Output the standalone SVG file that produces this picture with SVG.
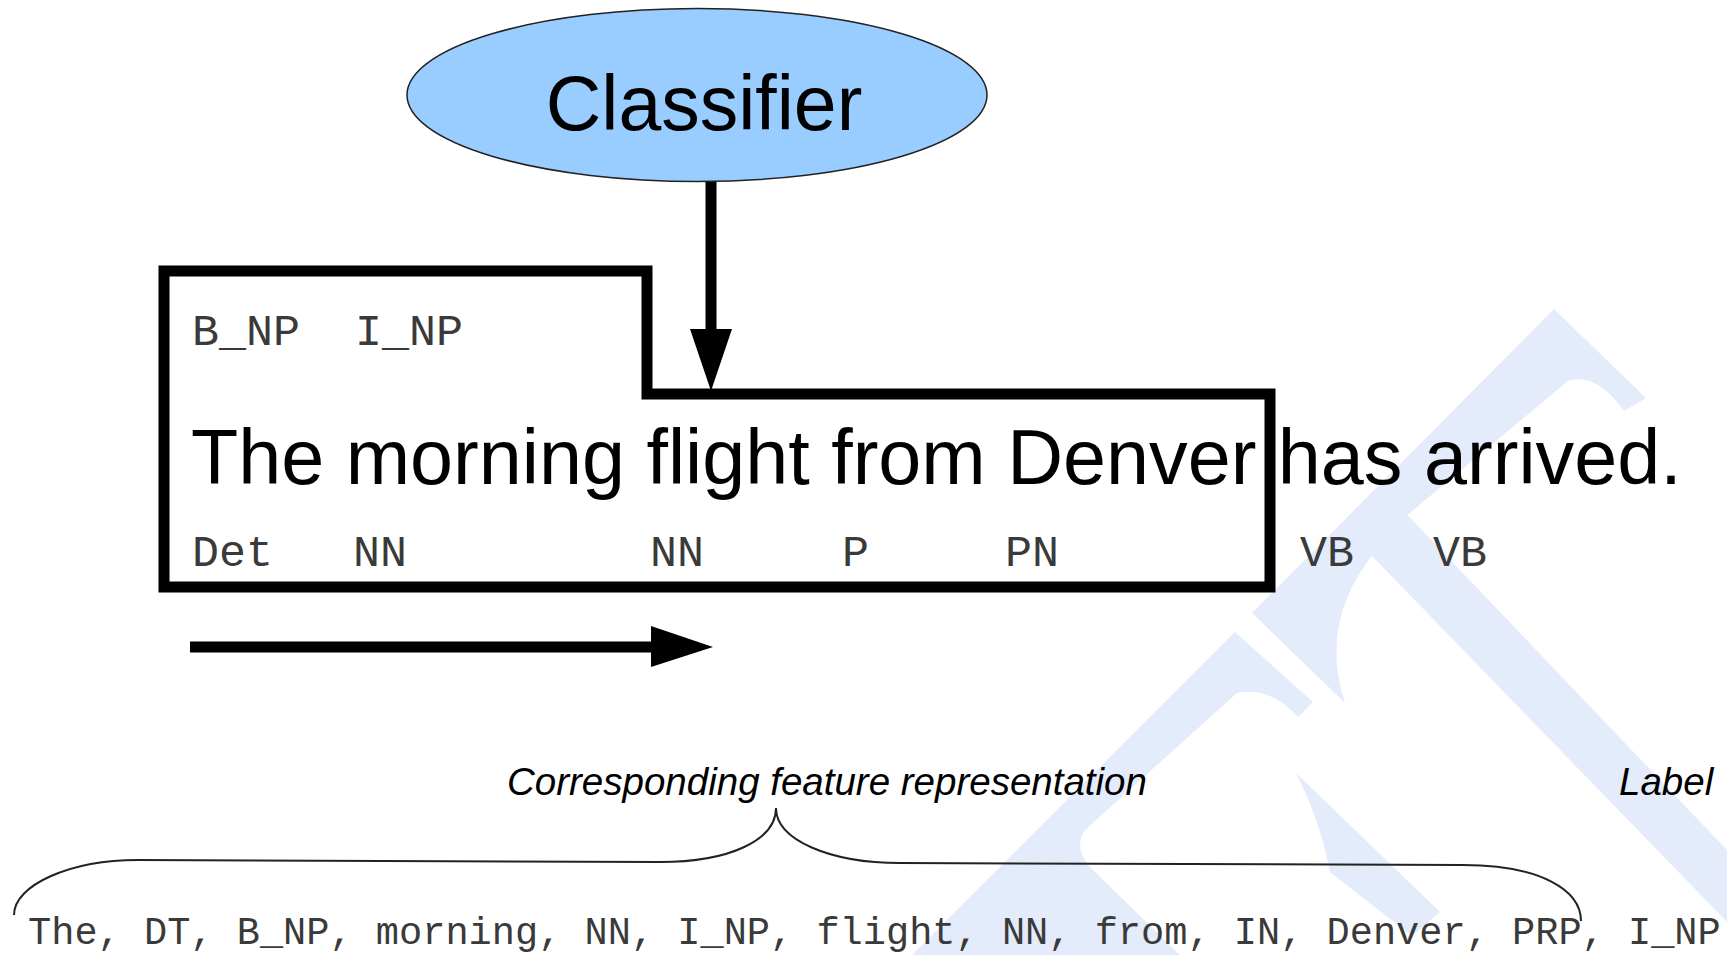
<svg xmlns="http://www.w3.org/2000/svg" width="1727" height="955" viewBox="0 0 1727 955">
<style>
.mono{font-family:"Liberation Mono","Courier New",monospace;fill:#3a3a3a}
.sans{font-family:"Liberation Sans",Arial,sans-serif;fill:#000}
.it{font-family:"Liberation Sans",Arial,sans-serif;font-style:italic;fill:#000}
.wm{fill:#e4ebfb}
</style>
<rect x="0" y="0" width="1727" height="955" fill="#fff"/>
<g id="watermark">
<path class="wm" d="M1554,309 L1646,398 L1624,411 Q1596,372 1568,381 L1405,517 L1376,551 Q1318,620 1345,703 L1252,613 Z"/>
<path class="wm" d="M1396,503 L1727,850 L1727,922 L1370,554 Z"/>
<path class="wm" d="M1235,632 L1313,702 L1298,717 Q1270,686 1237,693 L1085,830 Q1072,850 1093,870 L1180,955 L912,955 Z"/>
<path class="wm" d="M1296,773 L1440,912 L1412,936 L1330,872 Q1320,820 1296,773 Z"/>
</g>
<g id="classifier">
<ellipse cx="697" cy="95" rx="290" ry="86.5" fill="#99ccff" stroke="#222" stroke-width="1.5"/>
<text class="sans" x="704" y="130" font-size="77" text-anchor="middle">Classifier</text>
</g>
<g id="window">
<path d="M164,271 L647,271 L647,394 L1270,394 L1270,587 L164,587 Z" fill="none" stroke="#000" stroke-width="11" stroke-linejoin="miter"/>
</g>
<g id="sentence">
<text class="mono" x="192" y="345" font-size="45">B_NP</text>
<text class="mono" x="355" y="345" font-size="45">I_NP</text>
<text class="sans" x="191" y="484" font-size="77.3">The morning flight from Denver has arrived.</text>
<text class="mono" x="192" y="566" font-size="45">Det</text>
<text class="mono" x="353" y="566" font-size="45">NN</text>
<text class="mono" x="650" y="566" font-size="45">NN</text>
<text class="mono" x="842" y="566" font-size="45">P</text>
<text class="mono" x="1005" y="566" font-size="45">PN</text>
<text class="mono" x="1300" y="566" font-size="45">VB</text>
<text class="mono" x="1433" y="566" font-size="45">VB</text>
</g>
<g id="features">
<text class="it" x="507" y="795" font-size="38.5">Corresponding feature representation</text>
<text class="it" x="1619" y="795" font-size="38.5">Label</text>
<text class="mono" x="28" y="944" font-size="38.65" xml:space="preserve">The, DT, B_NP, morning, NN, I_NP, flight, NN, from, IN, Denver, PRP, I_NP</text>
</g>
<g id="connectors">
<line x1="711" y1="182" x2="711" y2="335" stroke="#000" stroke-width="11"/>
<path d="M690,329 L732,329 L711,391 Z" fill="#000"/>
<line x1="190" y1="647" x2="655" y2="647" stroke="#000" stroke-width="11"/>
<path d="M651,626 L651,667 L713,647 Z" fill="#000"/>
<path d="M14,915 C14,885 70,860 138,860 L660,862 C730,862 776,840 776,808 C776,840 830,863 900,863 L1463,865 C1540,865 1581,890 1581,921" fill="none" stroke="#222" stroke-width="2"/>
</g>
</svg>
